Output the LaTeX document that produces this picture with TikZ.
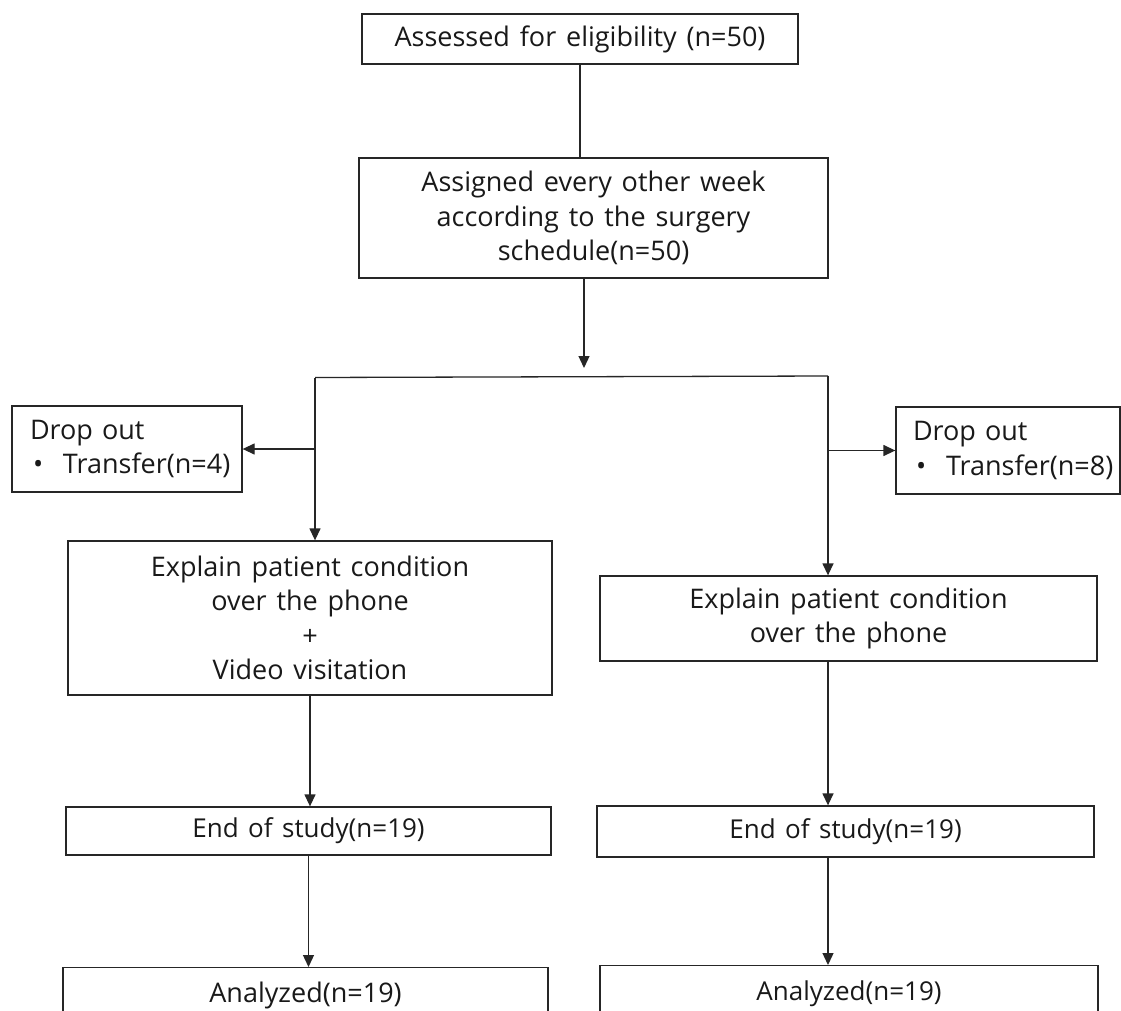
\documentclass[tikz,border=0pt]{standalone}
\usepackage{fontspec}
\setmainfont{Open Sans}[WordSpace=1.4]
\usetikzlibrary{arrows.meta}
\begin{document}
\begin{tikzpicture}[x=1pt,y=-1pt,
  box/.style={draw=black!85, line width=1.3pt, inner sep=0pt, align=center, text=black!90,
    font=\fontsize{27}{34.5}\selectfont},
  small/.style={font=\fontsize{26}{34.5}\selectfont},
  arr/.style={draw=black!85, line width=1.3pt, -{Triangle[length=12pt,width=11pt]}},
  conn/.style={draw=black!85, line width=1.3pt}]
\useasboundingbox (0,0) rectangle (1121,1011);
\clip (0,0) rectangle (1121,1011);
\fill[white] (0,0) rectangle (1121,1011);
% boxes
\node[box, minimum width=436pt, minimum height=50pt] (top) at (580,39) {Assessed for eligibility (n=50)};
\node[box, minimum width=469pt, minimum height=120pt] (assign) at (593.5,218)
  {Assigned every other week\\according to the surgery\\schedule(n=50)};
\node[box, minimum width=230pt, minimum height=86pt, align=left, text width=194pt, inner xsep=18pt] (ldrop) at (127,449)
  {Drop out\\\hspace*{3pt}\makebox[30pt][l]{•}Transfer(n=4)};
\node[box, minimum width=224pt, minimum height=87pt, align=left, text width=190pt, inner xsep=17pt] (rdrop) at (1008,450.5)
  {Drop out\\\hspace*{3pt}\makebox[30pt][l]{•}Transfer(n=8)};
\node[box, minimum width=484pt, minimum height=154pt] (lmain) at (310,618)
  {Explain patient condition\\over the phone\\+\\Video visitation};
\node[box, minimum width=497pt, minimum height=85pt] (rmain) at (848.5,618.5)
  {Explain patient condition\\over the phone};
\node[box, small, minimum width=485pt, minimum height=48pt] (lend) at (308.5,831) {End of study(n=19)};
\node[box, small, minimum width=497pt, minimum height=51pt] (rend) at (845.5,831.5) {End of study(n=19)};
\node[box, anchor=north, minimum width=485pt, text height=35pt, text depth=65pt] (lan) at (305.5,967) {Analyzed(n=19)};
\node[box, small, anchor=north, minimum width=498pt, text height=35pt, text depth=65pt] (ran) at (849,965) {Analyzed(n=19)};
% junction coordinates
\coordinate (tipA) at (584,368);
\coordinate (jl) at (315,377.5);
\coordinate (jr) at (828,376);
% connectors
\draw[conn] (top.south) -- (top.south |- assign.north);
\draw[arr] (assign.south -| tipA) -- (tipA);
\draw[conn] (jl) -- (jr);
\draw[arr] (jl) -- (jl |- lmain.north);
\draw[arr] (jl |- ldrop.east) -- (ldrop.east);
\draw[arr] (jr) -- (jr |- rmain.north);
\draw[arr] (jr |- rdrop.west) -- (rdrop.west);
\draw[arr] (lmain.south) -- (lmain.south |- lend.north);
\draw[arr] (lend.south) -- (lend.south |- lan.north);
\draw[arr] (jr |- rmain.south) -- (jr |- rend.north);
\draw[arr] (jr |- rend.south) -- (jr |- ran.north);
\end{tikzpicture}
\end{document}
